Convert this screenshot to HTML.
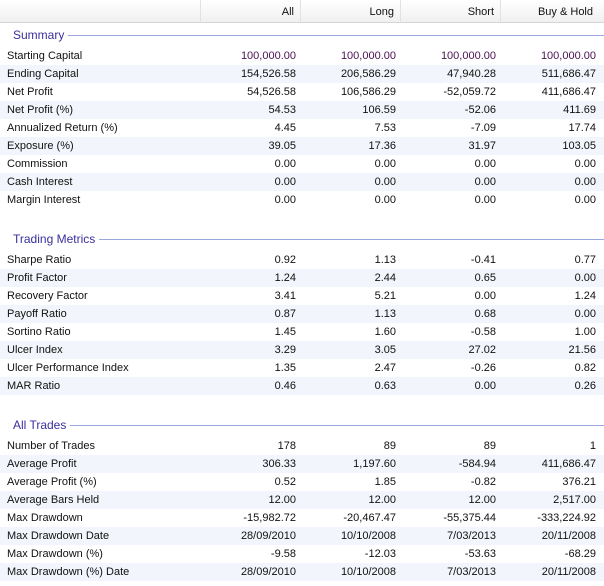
<!DOCTYPE html>
<html><head><meta charset="utf-8"><style>
body{margin:0;width:604px;height:586px;background:#fff;font-family:"Liberation Sans",Tahoma,sans-serif;font-size:11px;color:#111;position:relative;overflow:hidden}
.hdr{position:absolute;left:0;top:0;width:604px;height:22px;background:linear-gradient(#fff,#f0f0f0);border-bottom:1px solid #d5d5d5}
.hc{position:absolute;top:0;height:22px;line-height:24px;text-align:right;border-left:1px solid #e2e2e2;box-sizing:border-box;padding-right:6px}
.sec{position:absolute;left:13px;width:591px;height:16px;display:flex;align-items:center;font-size:12px;color:#3a2f9c}
.sec .ln{flex:1;height:1px;background:#9aa8e0;margin-left:4px}
.row{position:absolute;left:0;width:604px;height:18px;line-height:18px}
.row.alt{background:#f2f5fb}
.lab{position:absolute;left:7px}
.v{position:absolute;width:100px;text-align:right}
</style></head><body>
<div class="hdr">
<div class="hc" style="left:200px;width:100px">All</div>
<div class="hc" style="left:300px;width:100px">Long</div>
<div class="hc" style="left:400px;width:100px">Short</div>
<div class="hc" style="left:500px;width:100px;padding-right:7px">Buy &amp; Hold</div>
</div>
<div id="t"></div>
<script>
const sections=[
{title:"Summary",y:27,first:47,rows:[
["Starting Capital","100,000.00","100,000.00","100,000.00","100,000.00"],
["Ending Capital","154,526.58","206,586.29","47,940.28","511,686.47"],
["Net Profit","54,526.58","106,586.29","-52,059.72","411,686.47"],
["Net Profit (%)","54.53","106.59","-52.06","411.69"],
["Annualized Return (%)","4.45","7.53","-7.09","17.74"],
["Exposure (%)","39.05","17.36","31.97","103.05"],
["Commission","0.00","0.00","0.00","0.00"],
["Cash Interest","0.00","0.00","0.00","0.00"],
["Margin Interest","0.00","0.00","0.00","0.00"]]},
{title:"Trading Metrics",y:231,first:251,rows:[
["Sharpe Ratio","0.92","1.13","-0.41","0.77"],
["Profit Factor","1.24","2.44","0.65","0.00"],
["Recovery Factor","3.41","5.21","0.00","1.24"],
["Payoff Ratio","0.87","1.13","0.68","0.00"],
["Sortino Ratio","1.45","1.60","-0.58","1.00"],
["Ulcer Index","3.29","3.05","27.02","21.56"],
["Ulcer Performance Index","1.35","2.47","-0.26","0.82"],
["MAR Ratio","0.46","0.63","0.00","0.26"]]},
{title:"All Trades",y:417,first:437,rows:[
["Number of Trades","178","89","89","1"],
["Average Profit","306.33","1,197.60","-584.94","411,686.47"],
["Average Profit (%)","0.52","1.85","-0.82","376.21"],
["Average Bars Held","12.00","12.00","12.00","2,517.00"],
["Max Drawdown","-15,982.72","-20,467.47","-55,375.44","-333,224.92"],
["Max Drawdown Date","28/09/2010","10/10/2008","7/03/2013","20/11/2008"],
["Max Drawdown (%)","-9.58","-12.03","-53.63","-68.29"],
["Max Drawdown (%) Date","28/09/2010","10/10/2008","7/03/2013","20/11/2008"]]}];
const t=document.getElementById('t');
sections.forEach(s=>{
 const h=document.createElement('div');h.className='sec';h.style.top=s.y+'px';
 
 
 const tx=document.createElement('span');tx.textContent=s.title;h.appendChild(tx);
 const ln=document.createElement('span');ln.className='ln';
 
 
 h.appendChild(ln);
 t.appendChild(h);
 s.rows.forEach((r,i)=>{
  const row=document.createElement('div');row.className='row'+(i%2?' alt':'');row.style.top=(s.first+i*18)+'px';
  
  
  const l=document.createElement('span');l.className='lab';l.textContent=r[0];
  
  
  row.appendChild(l);
  for(let c=1;c<5;c++){const v=document.createElement('span');v.className='v';v.style.left=(96+c*100)+'px';v.textContent=r[c];
   if(r[c]==='100,000.00')v.style.color='#4a1050';
   
   
   row.appendChild(v);}
  t.appendChild(row);
 });
});
</script>
</body></html>
